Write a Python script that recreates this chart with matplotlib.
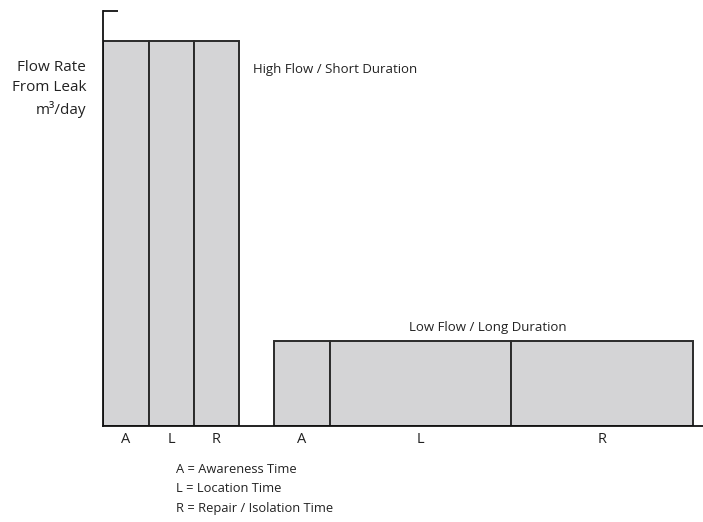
import matplotlib.pyplot as plt

# leak scenarios: duration of each phase and flow rate (arbitrary units)
phases = ['A', 'L', 'R']
high_durations = [46, 45, 45]
low_durations = [56, 181, 182]
high_flow = 100
low_flow = 22
gap = 35
legend_lines = ['A = Awareness Time', 'L = Location Time', 'R = Repair / Isolation Time']

plt.rcParams['font.family'] = ['Open Sans', 'DejaVu Sans']

fig = plt.figure(figsize=(7.03, 5.22), dpi=100)
ax = fig.add_axes([103 / 703, 96 / 522, 600 / 703, 415 / 522])

bar_style = dict(color='#d4d4d6', edgecolor='#2b2b2b', linewidth=1.4, align='edge')

centers = []
x = 0
for d in high_durations:
    ax.bar(x, high_flow, width=d, **bar_style)
    centers.append(x + d / 2)
    x += d
high_end = x
x += gap
low_start = x
for d in low_durations:
    ax.bar(x, low_flow, width=d, **bar_style)
    centers.append(x + d / 2)
    x += d

ymax = high_flow * 415 / 385
ax.set_xlim(0, 600)
ax.set_ylim(0, ymax)

for s in ['top', 'right']:
    ax.spines[s].set_visible(False)
for s in ['left', 'bottom']:
    ax.spines[s].set_linewidth(1.3)
    ax.spines[s].set_color('#111111')

ax.set_xticks(centers)
ax.set_xticklabels(phases + phases, fontsize=10.5, color='#222222')
ax.tick_params(axis='x', length=0, pad=4)
ax.set_yticks([ymax])
ax.set_yticklabels([])
ax.tick_params(axis='y', direction='in', length=11, width=1.3, color='#111111')

ax.text(high_end + 14, high_flow * 0.925, 'High Flow / Short Duration',
        fontsize=9.5, color='#222222', va='center', ha='left')
ax.text(low_start + sum(low_durations) * 0.51, low_flow + 3.5, 'Low Flow / Long Duration',
        fontsize=9.5, color='#222222', va='center', ha='center')

fig.text(86 / 703, 1 - 89 / 522, 'Flow Rate\nFrom Leak\nm³/day', fontsize=11,
         color='#222222', ha='right', va='center', linespacing=1.42)

fig.text(176 / 703, 1 - 489 / 522, '\n'.join(legend_lines), fontsize=9.3,
         color='#222222', ha='left', va='center', linespacing=1.68)

fig.savefig('out.png', dpi=100)
